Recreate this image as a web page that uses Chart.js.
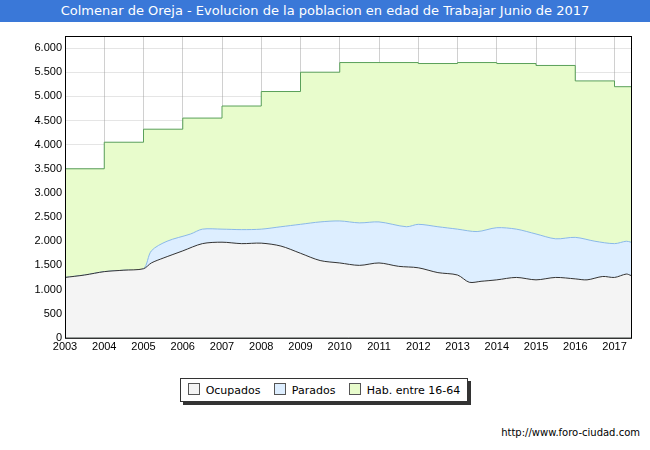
<!DOCTYPE html>
<html><head><meta charset="utf-8">
<script src="https://cdn.jsdelivr.net/npm/chart.js@4"></script>
<style>
body{margin:0;width:650px;height:450px;background:#fff;font-family:"DejaVu Sans",sans-serif;position:relative;overflow:hidden}
#title{position:absolute;left:0;top:0;width:650px;height:22px;background:#3a78d8;color:#fff;font-size:13px;text-align:center;line-height:22px}
#wrap{position:absolute;left:0;top:22px;width:650px;height:335px}
#legend{position:absolute;left:180px;top:378px;width:286px;height:22px;border:1px solid #333;box-shadow:3px 3px 0 #333;font-size:11px;display:flex;align-items:center;justify-content:space-around;background:#fff}
#legend span.b{display:inline-block;width:10px;height:10px;border:1px solid #555;margin-right:6px;vertical-align:-1px}
#url{position:absolute;right:10px;top:427px;font-size:10px;color:#000}
</style></head><body>
<div id="title">Colmenar de Oreja - Evolucion de la poblacion en edad de Trabajar Junio de 2017</div>
<div id="wrap"><canvas id="c"></canvas></div>
<div id="legend">
<div><span class="b" style="background:#f4f4f4"></span>Ocupados</div>
<div><span class="b" style="background:#ddeeff"></span>Parados</div>
<div><span class="b" style="background:#e8fccc"></span>Hab. entre 16-64</div>
</div>
<div id="url">http://www.foro-ciudad.com</div>
<script>
const habYears = [2003,2004,2005,2006,2007,2008,2009,2010,2011,2012,2013,2014,2015,2016,2017,2017.42];
const habValues = [3500,4050,4320,4550,4800,5100,5500,5700,5700,5680,5700,5680,5640,5320,5200,5200];

const ocupX = [2003,2003.5,2004,2004.5,2005,2005.2,2005.5,2006,2006.5,2007,2007.5,2008,2008.5,2009,2009.5,2010,2010.5,2011,2011.5,2012,2012.5,2013,2013.3,2013.6,2014,2014.5,2015,2015.5,2016,2016.3,2016.7,2017,2017.3,2017.42];
const ocupY = [1250,1300,1370,1400,1430,1550,1650,1800,1950,1980,1950,1960,1900,1750,1600,1550,1500,1550,1480,1450,1350,1300,1150,1170,1200,1250,1200,1250,1220,1200,1270,1250,1320,1290];

const totX = [2003,2003.5,2004,2004.5,2005,2005.2,2005.6,2006.2,2006.5,2007,2007.5,2008,2008.5,2009,2009.5,2010,2010.5,2011,2011.7,2012,2012.5,2013,2013.5,2014,2014.5,2015,2015.5,2016,2016.5,2017,2017.3,2017.42];
const totY = [1250,1300,1370,1400,1430,1800,2000,2150,2250,2250,2240,2250,2300,2350,2400,2420,2380,2400,2300,2350,2300,2250,2200,2280,2250,2150,2050,2080,2000,1950,2000,1980];

const toPts = (xs, ys) => xs.map((x, i) => ({x: x, y: ys[i]}));

const frame = {
  id: 'frame',
  afterDraw(chart) {
    const a = chart.chartArea, ctx = chart.ctx;
    ctx.save(); ctx.strokeStyle = '#000'; ctx.lineWidth = 1;
    ctx.strokeRect(a.left + 0.5, a.top + 0.5, a.right - a.left, a.bottom - a.top);
    ctx.restore();
  }
};

new Chart(document.getElementById('c'), {
  type: 'line',
  data: { datasets: [
    { data: toPts(ocupX, ocupY), borderColor: '#333', borderWidth: 1, backgroundColor: '#f4f4f4', fill: 'origin', pointRadius: 0, tension: 0.3 },
    { data: toPts(totX, totY), borderColor: '#8ab8e8', borderWidth: 1, backgroundColor: '#ddeeff', fill: 'origin', pointRadius: 0, tension: 0.3 },
    { data: toPts(habYears, habValues), borderColor: '#5aa05a', borderWidth: 1, backgroundColor: '#e8fccc', fill: 'origin', pointRadius: 0, stepped: 'before' }
  ]},
  plugins: [frame],
  options: {
    responsive: true, maintainAspectRatio: false, animation: false,
    layout: { padding: { right: 19, top: 14 } },
    plugins: { legend: { display: false }, tooltip: { enabled: false } },
    scales: {
      x: { type: 'linear', min: 2003, max: 2017.42, z: 1,
        afterBuildTicks: a => { a.ticks = []; for (let v = 2003; v <= 2017; v++) a.ticks.push({ value: v }); },
        ticks: { color: '#000', font: { size: 11 }, autoSkip: false, maxRotation: 0, callback: v => String(v) },
        grid: { color: 'rgba(150,150,150,0.45)', drawTicks: false }, border: { color: '#000' } },
      y: { min: 0, max: 6250, z: 1,
        afterFit: a => { a.width = 65; },
        afterBuildTicks: a => { a.ticks = []; for (let v = 0; v <= 6000; v += 500) a.ticks.push({ value: v }); },
        ticks: { color: '#000', font: { size: 11 }, callback: v => v.toLocaleString('de-DE') },
        grid: { color: 'rgba(150,150,150,0.25)', drawTicks: false }, border: { color: '#000' } }
    }
  }
});
</script>
</body></html>
